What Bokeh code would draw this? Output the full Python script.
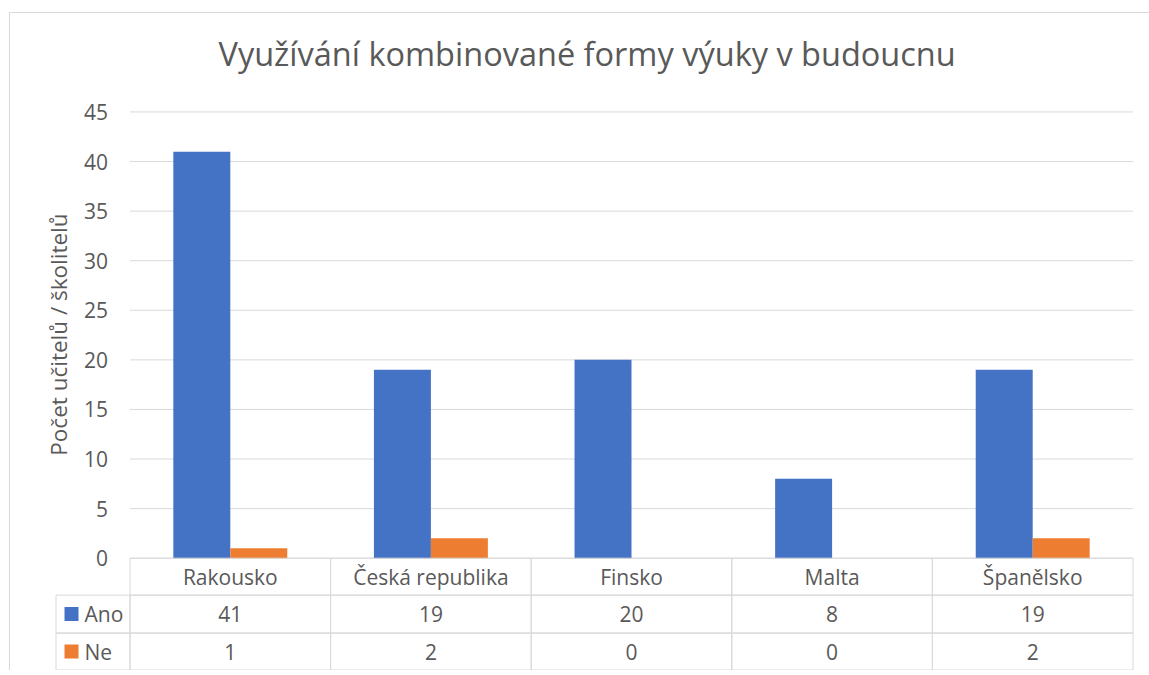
import math
from bokeh.plotting import figure
from bokeh.models import Range1d, ColumnDataSource
from bokeh.core.properties import value
from bokeh.embed import file_html
from bokeh.resources import INLINE

# ---------------- data ----------------
title_text = "Využívání kombinované formy výuky v budoucnu"
y_label = "Počet učitelů / školitelů"
countries = ["Rakousko", "Česká republika", "Finsko", "Malta", "Španělsko"]
series_names = ["Ano", "Ne"]
ano = [41, 19, 20, 8, 19]
ne = [1, 2, 0, 0, 2]
y_ticks = [0, 5, 10, 15, 20, 25, 30, 35, 40, 45]

# ---------------- style / layout (page pixels) ----------------
BLUE = "#4472C4"
ORANGE = "#ED7D31"
TEXT = "#595959"
GRID = "#D9D9D9"
FONT = "Open Sans"
FS = "21px"

FIG_L, FIG_T = 9, 12              # figure position on the page (css margin)
W, H = 1140, 658
FRAME_T = 90                      # page y of the plotting frame top
X0_PX = 129.5                     # page x of the category axis start
UX = 200.6                        # px per category
Y0_PX = 557.5                     # page y of value 0
UY = 447 / 45.0                   # px per value unit
BAR_W = 0.284

def dx(px):
    return (px - X0_PX) / UX

def dy(py):
    return (Y0_PX - py) / UY

n = len(countries)
xc = [i + 0.5 for i in range(n)]

src = ColumnDataSource(data=dict(
    x=xc, country=countries, ano=ano, ne=ne,
    ano_t=[str(v) for v in ano], ne_t=[str(v) for v in ne]))

p = figure(width=W, height=H,
           x_range=Range1d(dx(FIG_L), dx(FIG_L + W)),
           y_range=Range1d(dy(FIG_T + H), dy(FRAME_T)),
           x_axis_location=None, y_axis_location=None,
           output_backend="svg", toolbar_location=None,
           min_border_left=0, min_border_right=0,
           min_border_top=FRAME_T - FIG_T, min_border_bottom=0,
           margin=(FIG_T, 0, 0, FIG_L),
           styles={"box-shadow": "inset 1px 1px 0 0 #D9D9D9"})
p.outline_line_color = None
p.background_fill_color = None
p.border_fill_color = None
p.xgrid.visible = False
p.ygrid.visible = False
p.grid.grid_line_color = None

p.title.text = title_text
p.title.align = "left"
p.title.offset = 218 - FIG_L
p.title.text_font = FONT
p.title.text_font_size = "32.5px"
p.title.text_font_style = "normal"
p.title.text_color = TEXT
p.title.standoff = 32

# value gridlines and tick labels
tick_src = ColumnDataSource(data=dict(y=y_ticks, t=[str(t) for t in y_ticks],
                                      x0=[0] * len(y_ticks), x1=[n] * len(y_ticks),
                                      xl=[dx(107.5)] * len(y_ticks)))
p.segment(x0="x0", y0="y", x1="x1", y1="y", source=tick_src, line_color=GRID, line_width=1)
p.text(x="xl", y="y", text="t", source=tick_src, text_align="right", text_baseline="middle",
       text_font=value(FONT), text_font_size=FS, text_color=TEXT)

# y axis title
p.text(x=[dx(58)], y=[dy(333.5)], text=[y_label], angle=math.pi / 2,
       text_align="center", text_baseline="middle",
       text_font=value(FONT), text_font_size="22.5px", text_color=TEXT)

# bars
p.vbar(x=[v - BAR_W / 2 for v in xc], top=ano, width=BAR_W, fill_color=BLUE, line_color=None)
p.vbar(x=[v + BAR_W / 2 for v in xc], top=ne, width=BAR_W, fill_color=ORANGE, line_color=None)

# ---------------- data table ----------------
rows_top = [557.5, 594.5, 632.5]
rows_bot = [594.5, 632.5, 669.5]
row_cols = ["country", "ano_t", "ne_t"]
for top, bot, col in zip(rows_top, rows_bot, row_cols):
    yt, yb = dy(top), dy(bot)
    yc = (yt + yb) / 2
    p.rect(x="x", y=yc, width=1, height=yt - yb, source=src,
           fill_color=None, line_color=GRID, line_width=1)
    p.text(x="x", y=yc, text=col, source=src,
           text_align="center", text_baseline="middle",
           text_font=value(FONT), text_font_size=FS, text_color=TEXT)

# legend column of the table
leg_l = dx(55.5)
for name, colr, top, bot in zip(series_names, [BLUE, ORANGE], rows_top[1:], rows_bot[1:]):
    yt, yb = dy(top), dy(bot)
    yc = (yt + yb) / 2
    p.rect(x=[leg_l / 2], y=[yc], width=-leg_l, height=yt - yb,
           fill_color=None, line_color=GRID, line_width=1)
    p.rect(x=[dx(71)], y=[yc], width=14 / UX, height=14 / UY,
           fill_color=colr, line_color=None)
    p.text(x=[dx(84)], y=[yc], text=[name], text_align="left", text_baseline="middle",
           text_font=value(FONT), text_font_size=FS, text_color=TEXT)

open("out.html", "w").write(file_html(p, INLINE))
